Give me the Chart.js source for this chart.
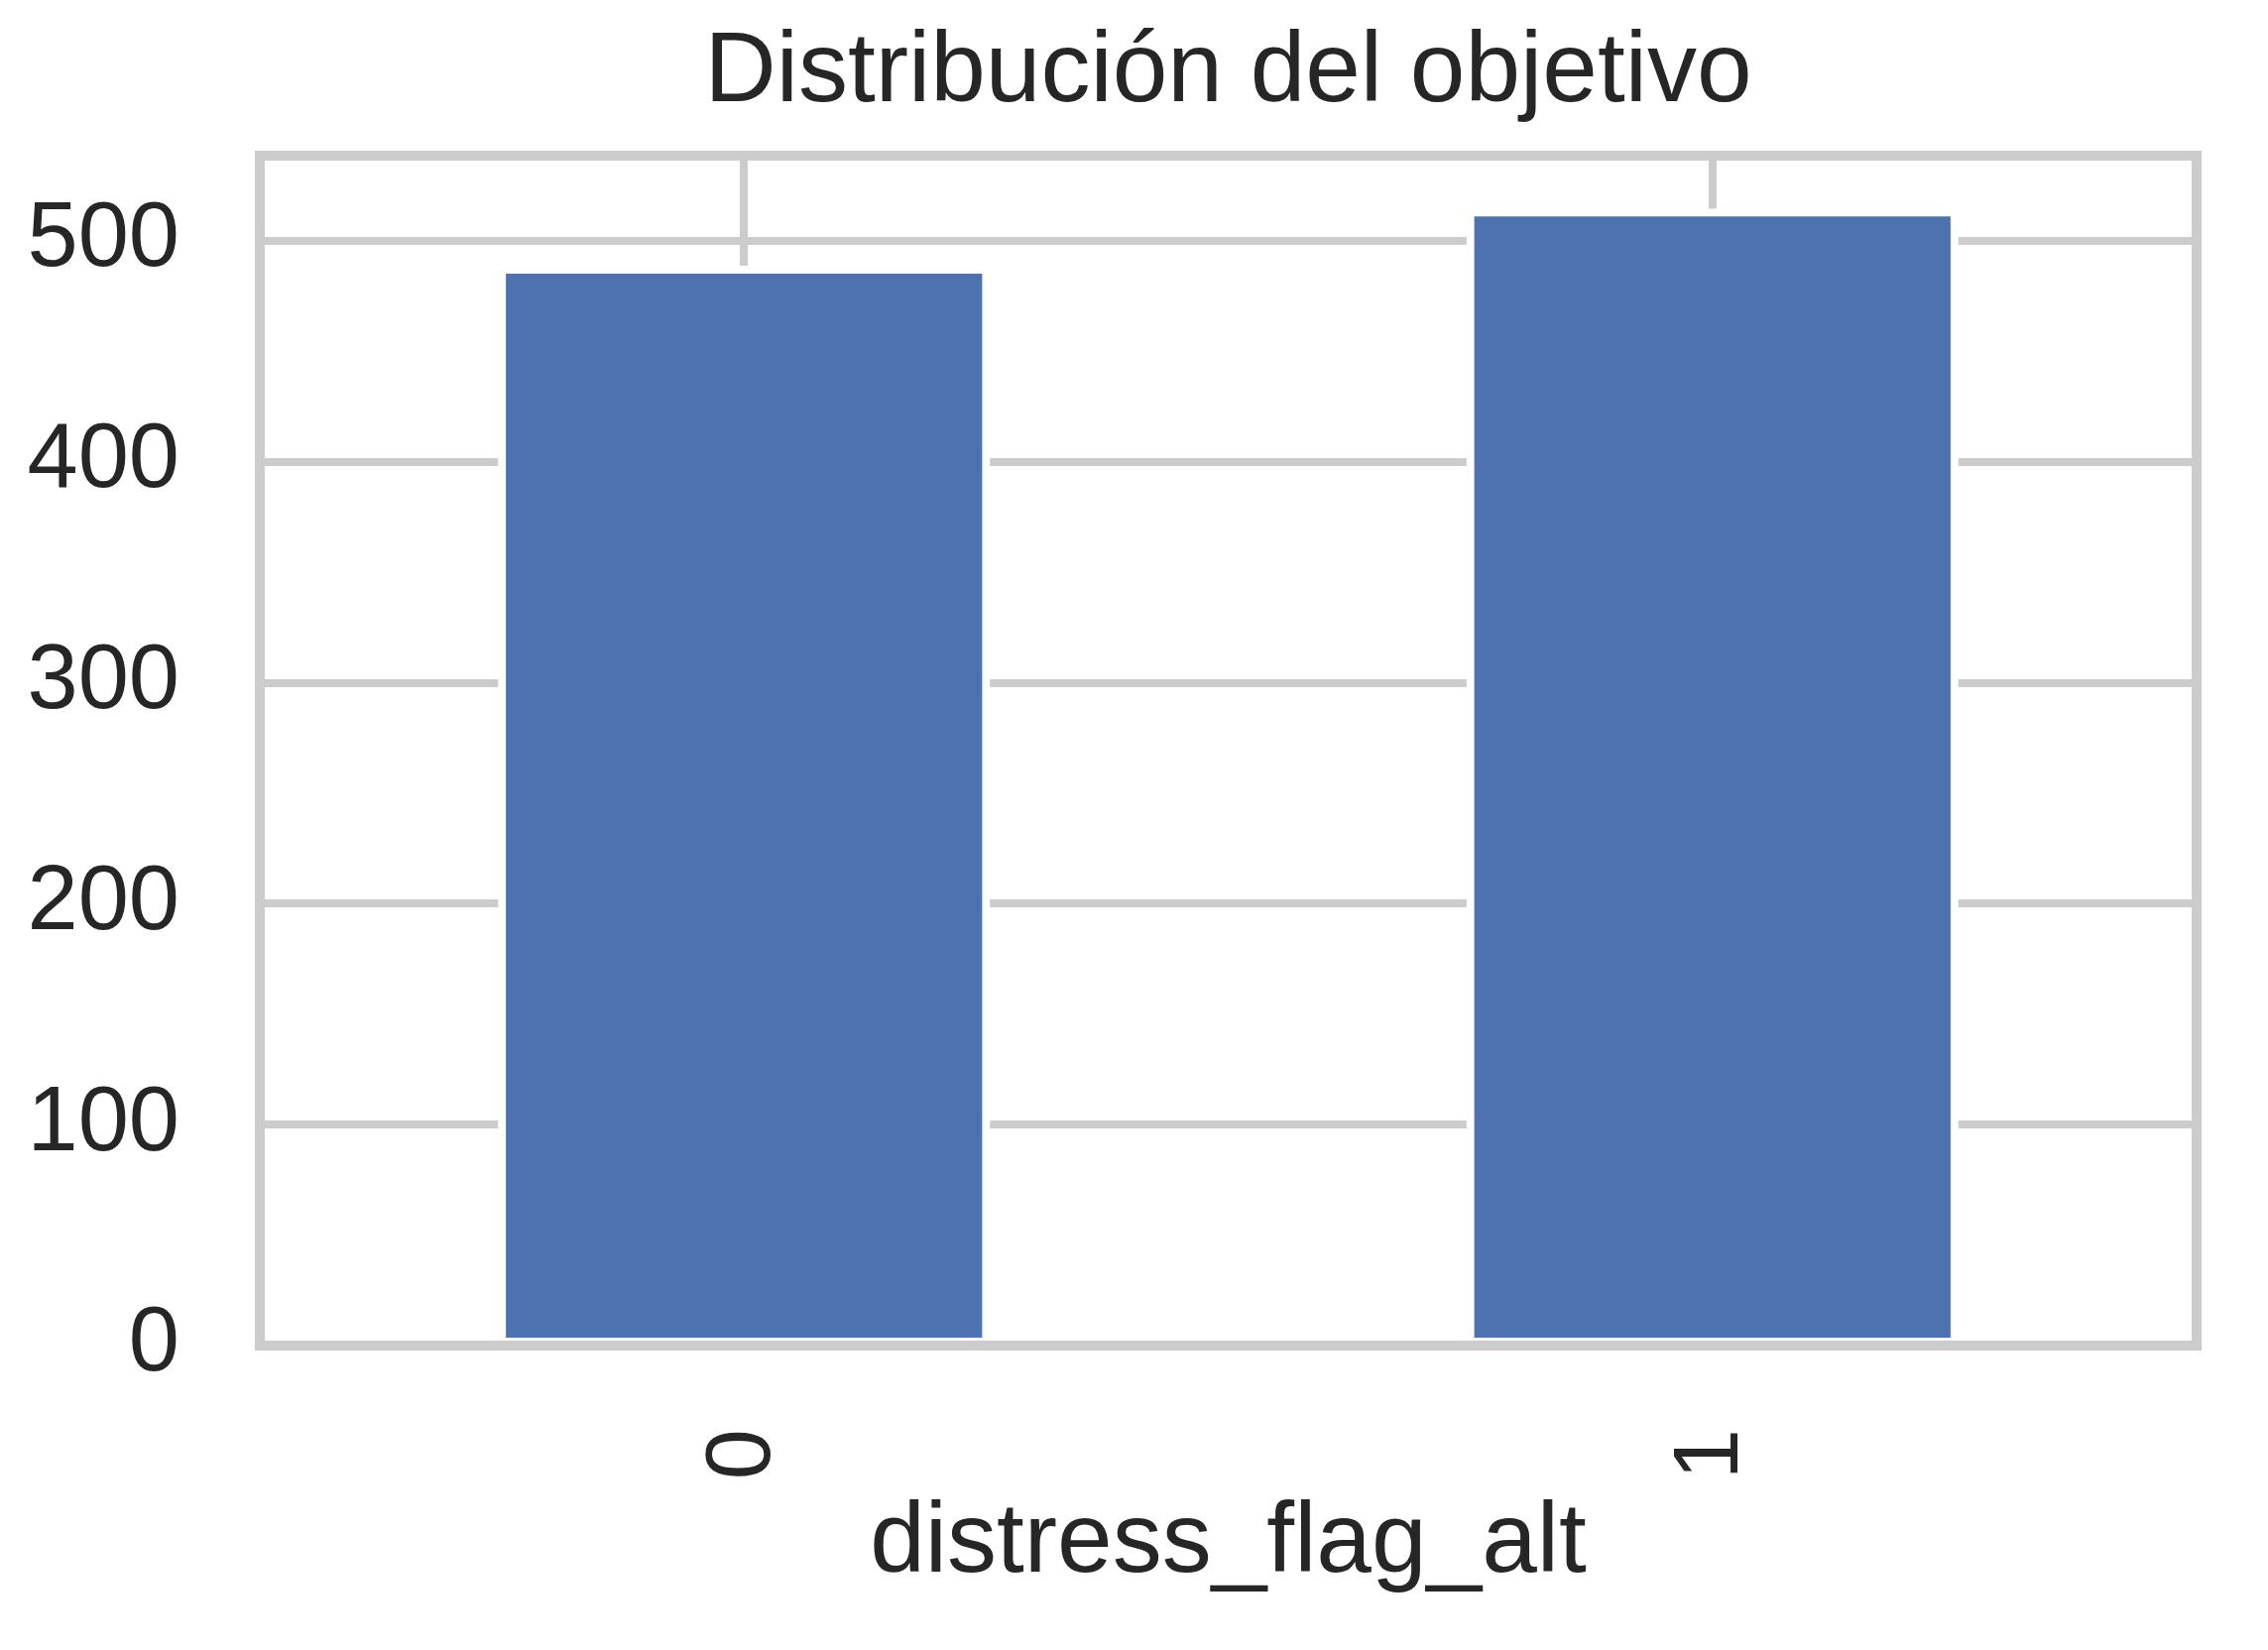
<!DOCTYPE html>
<html>
<head>
<meta charset="utf-8">
<script src="https://cdn.jsdelivr.net/npm/chart.js@4"></script>
<style>
  html, body { margin: 0; padding: 0; background: #ffffff; }
  canvas { display: block; }
</style>
</head>
<body>
<canvas id="c" width="2287" height="1664"></canvas>
<script>
// ---- data ----
const categories = ['0', '1'];
const counts = [487, 513];
const yTickValues = [0, 100, 200, 300, 400, 500];
const chartTitle = 'Distribución del objetivo';
const xAxisTitle = 'distress_flag_alt';

const FONT = "'Liberation Sans', Arial, Helvetica, sans-serif";
const TEXT = '#262626';
const GRID = '#cccccc';

const framePlugin = {
  id: 'frame',
  afterDatasetsDraw(chart) {
    const a = chart.chartArea;
    const ctx = chart.ctx;
    ctx.save();
    ctx.strokeStyle = GRID;
    ctx.lineWidth = 10;
    ctx.lineJoin = 'miter';
    ctx.strokeRect(a.left, a.top, a.right - a.left, a.bottom - a.top);
    ctx.restore();
  }
};

new Chart(document.getElementById('c'), {
  type: 'bar',
  data: {
    labels: categories,
    datasets: [{
      data: counts,
      backgroundColor: '#4c72b0',
      borderColor: '#ffffff',
      borderWidth: 8,
      borderSkipped: false,
      inflateAmount: 4,
      categoryPercentage: 0.5,
      barPercentage: 1.0
    }]
  },
  options: {
    responsive: false,
    devicePixelRatio: 1,
    animation: false,
    layout: { padding: { left: 0, right: 72, top: 0, bottom: 0 } },
    plugins: {
      legend: { display: false },
      tooltip: { enabled: false },
      title: {
        display: true,
        fullSize: false,
        text: chartTitle,
        color: TEXT,
        font: { family: FONT, size: 100, weight: 'normal', lineHeight: 1.2 },
        padding: { top: 14, bottom: 23 }
      }
    },
    scales: {
      x: {
        offset: true,
        grid: { display: true, offset: false, color: GRID, lineWidth: 8, drawTicks: false },
        border: { display: false },
        ticks: {
          color: TEXT,
          font: { family: FONT, size: 92 },
          maxRotation: 90,
          minRotation: 90,
          padding: 84
        },
        title: {
          display: true,
          text: xAxisTitle,
          color: TEXT,
          font: { family: FONT, size: 100, lineHeight: 1.2 },
          padding: { top: 0, bottom: 47 }
        },
        afterFit(scale) {
          scale.height = 307;
          scale.paddingLeft = 0;
          scale.paddingRight = 0;
        }
      },
      y: {
        min: 0,
        max: Math.max(...counts) * 1.05,
        grid: { display: true, color: GRID, lineWidth: 8, drawTicks: false },
        border: { display: false },
        ticks: {
          stepSize: 100,
          color: TEXT,
          font: { family: FONT, size: 92 },
          padding: 81
        },
        afterBuildTicks(scale) {
          scale.ticks = yTickValues.map(v => ({ value: v }));
        },
        afterFit(scale) {
          scale.width = 262;
          scale.paddingTop = 0;
          scale.paddingBottom = 0;
        }
      }
    }
  },
  plugins: [framePlugin]
});
</script>
</body>
</html>
